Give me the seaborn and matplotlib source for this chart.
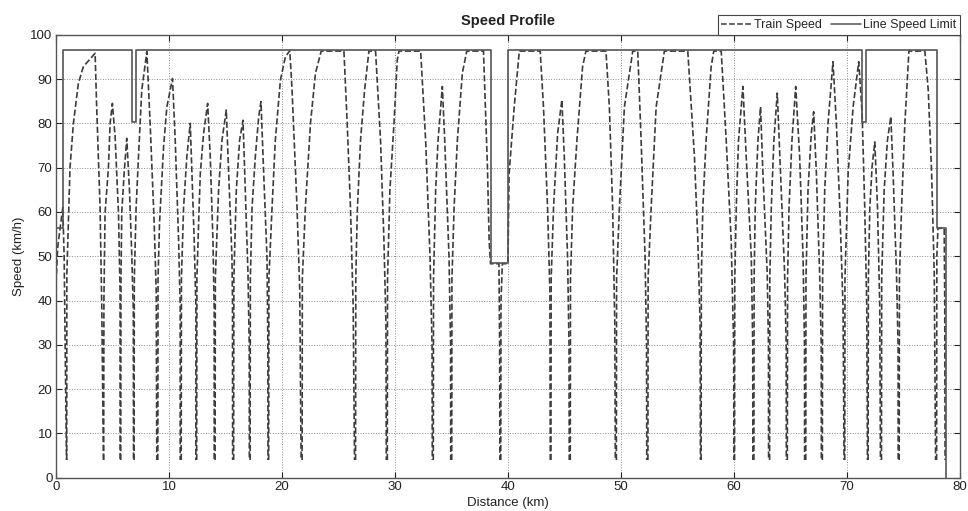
import matplotlib
matplotlib.use("Agg")
import matplotlib.pyplot as plt
import seaborn as sns
import pandas as pd
from matplotlib.lines import Line2D

# ---------------- data ----------------
# train speed, one list per inter-station run (distance in km, speed in km/h)
run_distance = [
    [0.00, 0.02, 0.15, 0.40, 0.60, 0.72, 0.93],
    [0.95, 0.96, 1.24, 1.54, 1.98, 2.42, 3.46, 3.60, 3.90, 4.05, 4.20],
    [4.22, 4.24, 4.34, 4.64, 4.79, 4.99, 5.23, 5.53, 5.67, 5.67],
    [5.73, 5.75, 5.82, 6.03, 6.26, 6.50, 6.71, 6.84, 6.86],
    [6.91, 6.93, 7.09, 7.30, 7.59, 8.04, 8.33, 8.69, 8.87, 8.92],
    [9.01, 9.03, 9.16, 9.52, 9.81, 10.31, 10.55, 10.85, 10.99, 10.99],
    [11.08, 11.10, 11.29, 11.58, 11.88, 12.03, 12.23, 12.38, 12.38],
    [12.45, 12.47, 12.62, 12.77, 13.06, 13.42, 13.65, 13.89, 14.00, 14.00],
    [14.08, 14.10, 14.39, 14.69, 15.07, 15.28, 15.57, 15.62, 15.63],
    [15.72, 15.74, 15.96, 16.25, 16.55, 16.75, 16.99, 17.10, 17.11],
    [17.18, 17.20, 17.35, 17.64, 17.94, 18.14, 18.38, 18.67, 18.75, 18.76],
    [18.82, 18.84, 19.12, 19.41, 19.86, 20.30, 20.69, 20.89, 21.33, 21.57, 21.69],
    [21.78, 21.80, 22.07, 22.52, 22.96, 23.47, 25.48, 25.77, 26.06, 26.30, 26.42],
    [26.51, 26.53, 26.66, 26.95, 27.31, 27.69, 28.28, 28.72, 29.02, 29.20, 29.23],
    [29.32, 29.34, 29.55, 29.91, 30.20, 30.35, 32.27, 32.71, 33.10, 33.28, 33.30],
    [33.39, 33.41, 33.60, 33.81, 34.19, 34.40, 34.78, 34.92, 34.93],
    [35.02, 35.04, 35.23, 35.52, 35.96, 36.35, 37.83, 38.18, 38.33, 38.45, 39.20, 39.26, 39.28],
    [39.36, 39.38, 39.50, 40.00, 40.05, 40.10, 40.55, 41.00, 42.85, 43.14, 43.50, 43.71, 43.74],
    [43.80, 43.82, 44.03, 44.39, 44.77, 44.98, 45.27, 45.40, 45.42],
    [45.51, 45.53, 45.72, 46.10, 46.60, 46.90, 48.67, 48.97, 49.26, 49.45, 49.50],
    [49.59, 49.61, 49.86, 50.30, 51.04, 51.48, 51.78, 52.13, 52.26, 52.28],
    [52.38, 52.40, 52.66, 53.11, 53.84, 55.91, 56.50, 56.80, 57.00, 57.03],
    [57.09, 57.11, 57.24, 57.53, 57.98, 58.21, 58.87, 59.31, 59.75, 59.97, 59.99],
    [60.05, 60.07, 60.20, 60.40, 60.79, 61.08, 61.53, 61.66, 61.67],
    [61.76, 61.78, 61.88, 62.12, 62.35, 62.56, 62.94, 63.05, 63.06],
    [63.15, 63.17, 63.30, 63.53, 63.83, 64.12, 64.48, 64.62, 64.63],
    [64.72, 64.74, 64.87, 65.13, 65.46, 65.81, 66.11, 66.24, 66.25],
    [66.35, 66.37, 66.55, 66.84, 67.05, 67.29, 67.58, 67.72, 67.73],
    [67.82, 67.84, 68.03, 68.32, 68.76, 69.06, 69.36, 69.65, 69.74],
    [69.80, 69.82, 70.10, 70.54, 71.04, 71.34, 71.57, 71.75, 71.81],
    [71.87, 71.89, 72.02, 72.22, 72.46, 72.70, 72.90, 72.96],
    [73.05, 73.07, 73.29, 73.58, 73.88, 74.08, 74.38, 74.52, 74.53],
    [74.62, 74.64, 74.83, 75.12, 75.48, 76.89, 77.19, 77.49, 77.72, 77.84],
    [77.93, 77.95, 78.05, 78.60, 78.65, 78.68],
]
run_speed = [
    [4, 45, 52, 57, 61, 50, 4],
    [4, 46, 70, 80, 89, 92.8, 95.8, 83.7, 61, 38.6, 4],
    [4, 40, 59.7, 70, 80, 84.5, 77, 59.7, 42, 4],
    [4, 45, 60, 68.7, 76.6, 65, 50, 38, 4],
    [4, 45, 61, 72.5, 87.5, 96.2, 80, 57.4, 42, 4],
    [4, 45, 57.4, 74.7, 83.7, 90.1, 76.2, 53.6, 38.6, 4],
    [4, 45, 61, 72.5, 80, 68.7, 53.6, 38.6, 4],
    [4, 45, 57.4, 68.7, 77.7, 84.5, 72.5, 53.6, 38, 4],
    [4, 45, 65, 76.2, 83, 68.7, 49.9, 40, 4],
    [4, 45, 65, 76.2, 80.7, 65, 46.1, 30, 4],
    [4, 45, 61, 72.5, 81.5, 84.9, 68.7, 49.9, 30, 4],
    [4, 45, 61, 76.2, 89.8, 95, 96.4, 87.5, 61, 42.4, 4],
    [4, 45, 61, 80, 91.3, 96.3, 96.3, 80, 61, 38.6, 4],
    [4, 45, 60, 76.2, 87.5, 96.3, 96.3, 76.2, 53.6, 35, 4],
    [4, 45, 65, 80, 94.3, 96.3, 96.3, 76.2, 49.9, 30, 4],
    [4, 45, 65, 76.2, 88.3, 76.2, 49.9, 30, 4],
    [4, 45, 61, 76.2, 91.3, 96.3, 96.3, 70.2, 53.6, 48.3, 48.3, 30, 4],
    [4, 40, 48.3, 48.3, 60, 68.7, 83.7, 96.3, 96.3, 83.7, 61, 42, 4],
    [4, 45, 61, 77.7, 85.3, 72.5, 49.9, 30, 4],
    [4, 45, 61, 76.2, 92.8, 96.3, 96.3, 83.7, 61, 35, 4],
    [4, 45, 61, 83.7, 96.3, 96.3, 76.2, 49.9, 30, 4],
    [4, 45, 60.5, 83.7, 96.3, 96.3, 72.5, 53.6, 35, 4],
    [4, 45, 61, 76.2, 92.8, 96.3, 96.3, 76.2, 53.6, 30, 4],
    [4, 45, 61, 76.2, 88.3, 72.5, 49.9, 30, 4],
    [4, 45, 61, 76.2, 83.7, 68.7, 46.1, 30, 4],
    [4, 45, 61, 76.2, 86.8, 68.7, 46.1, 30, 4],
    [4, 45, 61, 76.2, 88.3, 72.5, 49.9, 30, 4],
    [4, 45, 65, 77.7, 82.6, 68.7, 46.1, 30, 4],
    [4, 45, 65, 80, 93.9, 80, 61, 38.6, 4],
    [4, 45, 68.7, 83.7, 93.9, 82.2, 61, 38.6, 4],
    [4, 45, 61, 70.2, 75.8, 61, 38.6, 4],
    [4, 45, 65, 76.2, 81.5, 68.7, 46.1, 30, 4],
    [4, 45, 61, 80, 96.3, 96.3, 87.5, 68.7, 46.1, 4],
    [4, 50, 56.3, 56.3, 40, 4],
]

# line speed limit: start of each section (km) and its limit (km/h)
limit_start_km = [0.0, 0.65, 6.71, 7.09, 38.48, 40.01, 71.34, 71.72, 77.93]
limit_value_kmh = [56.4, 96.5, 80.2, 96.5, 48.4, 96.5, 80.2, 96.5, 56.4]
route_end_km = 78.72

x_ticks = [0, 10, 20, 30, 40, 50, 60, 70, 80]
y_ticks = [0, 10, 20, 30, 40, 50, 60, 70, 80, 90, 100]

# ---------------- tables ----------------
rows = []
for i, (ds, vs) in enumerate(zip(run_distance, run_speed)):
    for d, v in zip(ds, vs):
        rows.append((i, d, v))
train = pd.DataFrame(rows, columns=["run", "distance", "speed"])

limit = pd.DataFrame({
    "distance": limit_start_km + [route_end_km, route_end_km],
    "speed": limit_value_kmh + [limit_value_kmh[-1], 0],
})

# ---------------- plot ----------------
sns.set_style("ticks")
plt.rcParams["font.family"] = ["Liberation Sans", "DejaVu Sans"]

fig = plt.figure(figsize=(9.68, 5.11), dpi=100)
ax = fig.add_axes([56 / 968, (511 - 477.7) / 511, (960 - 56) / 968, (477.7 - 34.7) / 511])

train_color = "#3c3c3c"
limit_color = "#555555"

sns.lineplot(data=train, x="distance", y="speed", units="run", estimator=None,
             sort=False, color=train_color, linestyle="--", linewidth=1.2,
             ax=ax, legend=False)
sns.lineplot(data=limit, x="distance", y="speed", estimator=None, sort=False,
             drawstyle="steps-post", color=limit_color, linewidth=1.2,
             ax=ax, legend=False)

ax.set_xlim(0, 80)
ax.set_ylim(0, 100)
ax.set_xticks(x_ticks)
ax.set_yticks(y_ticks)
ax.grid(True, linestyle=":", color="#8c8c8c", linewidth=0.7)
ax.tick_params(direction="in", top=True, right=True, length=4.5, width=0.8,
               labelsize=9.5, colors="#222222", pad=2.5)
for s in ax.spines.values():
    s.set_visible(True)
    s.set_color("#555555")
    s.set_linewidth(1.0)

ax.set_xlabel("Distance (km)", fontsize=9.5, color="#222222", labelpad=2.5)
ax.set_ylabel("Speed (km/h)", fontsize=9.5, color="#222222", labelpad=4)
ax.set_title("Speed Profile", fontsize=10.5, fontweight="bold", color="#222222", pad=7)

handles = [
    Line2D([], [], color=train_color, linestyle="--", linewidth=1.1, label="Train Speed"),
    Line2D([], [], color=limit_color, linestyle="-", linewidth=1.1, label="Line Speed Limit"),
]
leg = ax.legend(handles=handles, loc="lower right", bbox_to_anchor=(1.0, 1.0),
                ncol=2, fontsize=9, frameon=True, fancybox=False, framealpha=1,
                borderaxespad=0, borderpad=0.3, handlelength=2.4,
                handletextpad=0.2, columnspacing=0.7)
leg.get_frame().set_edgecolor("#444444")
leg.get_frame().set_linewidth(0.8)

fig.savefig("out.png", dpi=100)
